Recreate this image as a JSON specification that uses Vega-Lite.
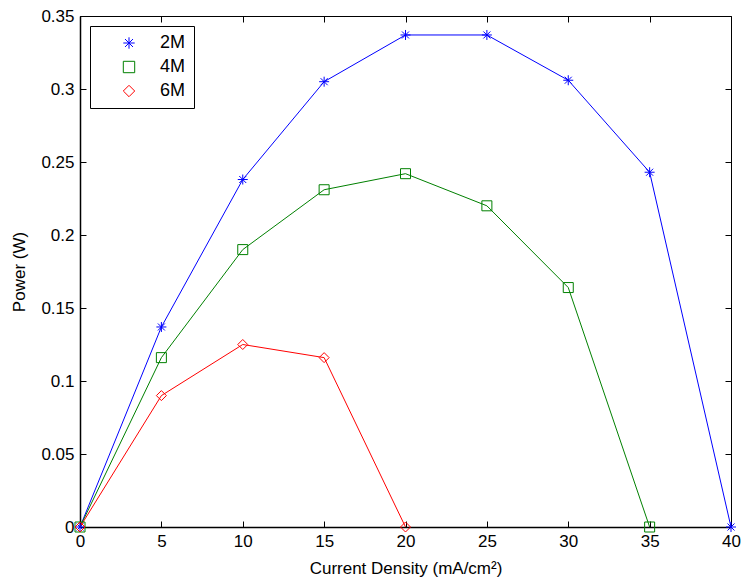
{
  "$schema": "https://vega.github.io/schema/vega-lite/v6.json",
  "width": 651,
  "height": 511,
  "autosize": "none",
  "padding": {"left": 80, "top": 16, "right": 11, "bottom": 58},
  "background": "white",
  "config": {
    "font": "Liberation Sans",
    "view": {"stroke": "black", "strokeWidth": 1},
    "axis": {"grid": false, "domainColor": "black", "tickColor": "black", "labelColor": "black", "titleColor": "black", "labelFontSize": 17, "titleFontSize": 17, "titleFontWeight": "normal", "tickSize": -6, "labelPadding": 12, "domainWidth": 1.5, "format": "~g", "labelFlush": false, "labelOverlap": false},
    "legend": {"title": null, "orient": "top-left", "offset": 10, "strokeColor": "black", "fillColor": "white", "padding": 8, "labelFontSize": 18, "labelColor": "black", "symbolSize": 130, "symbolStrokeWidth": 1, "rowPadding": 6, "labelOffset": 22, "symbolOffset": 22}
  },
  "data": {"values": [
    {"j": 0, "p": 0, "s": "2M"}, {"j": 5, "p": 0.137, "s": "2M"}, {"j": 10, "p": 0.238, "s": "2M"}, {"j": 15, "p": 0.305, "s": "2M"}, {"j": 20, "p": 0.337, "s": "2M"}, {"j": 25, "p": 0.337, "s": "2M"}, {"j": 30, "p": 0.306, "s": "2M"}, {"j": 35, "p": 0.243, "s": "2M"}, {"j": 40, "p": 0, "s": "2M"},
    {"j": 0, "p": 0, "s": "4M"}, {"j": 5, "p": 0.116, "s": "4M"}, {"j": 10, "p": 0.190, "s": "4M"}, {"j": 15, "p": 0.231, "s": "4M"}, {"j": 20, "p": 0.242, "s": "4M"}, {"j": 25, "p": 0.220, "s": "4M"}, {"j": 30, "p": 0.164, "s": "4M"}, {"j": 35, "p": 0, "s": "4M"},
    {"j": 0, "p": 0, "s": "6M"}, {"j": 5, "p": 0.090, "s": "6M"}, {"j": 10, "p": 0.125, "s": "6M"}, {"j": 15, "p": 0.116, "s": "6M"}, {"j": 20, "p": 0, "s": "6M"}
  ]},
  "layer": [
    {
      "mark": {"type": "line", "strokeWidth": 1},
      "encoding": {
        "x": {"field": "j", "type": "quantitative", "scale": {"domain": [0, 40], "nice": false}, "axis": {"values": [0,5,10,15,20,25,30,35,40], "title": "Current Density (mA/cm²)", "titlePadding": 11}},
        "y": {"field": "p", "type": "quantitative", "scale": {"domain": [0, 0.35], "nice": false}, "axis": {"values": [0,0.05,0.1,0.15,0.2,0.25,0.3,0.35], "title": "Power (W)", "titlePadding": 12}},
        "color": {"field": "s", "type": "nominal", "scale": {"domain": ["2M","4M","6M"], "range": ["#0000ff","#008000","#ff0000"]}},
        "detail": {"field": "s"}
      }
    },
    {
      "mark": {"type": "point", "filled": false, "strokeWidth": 1, "size": 100, "opacity": 1},
      "encoding": {
        "x": {"field": "j", "type": "quantitative", "axis": {"orient": "top", "values": [0,5,10,15,20,25,30,35,40], "labels": false, "title": null, "domain": false}},
        "y": {"field": "p", "type": "quantitative", "axis": {"orient": "right", "values": [0,0.05,0.1,0.15,0.2,0.25,0.3,0.35], "labels": false, "title": null, "domain": false}},
        "color": {"field": "s", "type": "nominal", "scale": {"domain": ["2M","4M","6M"], "range": ["#0000ff","#008000","#ff0000"]}},
        "shape": {"field": "s", "type": "nominal", "scale": {"domain": ["2M","4M","6M"], "range": ["M-1,0H1M0,-1V1M-0.7,-0.7L0.7,0.7M-0.7,0.7L0.7,-0.7", "square", "diamond"]}}
      }
    }
  ],
  "resolve": {"axis": {"x": "independent", "y": "independent"}}
}
